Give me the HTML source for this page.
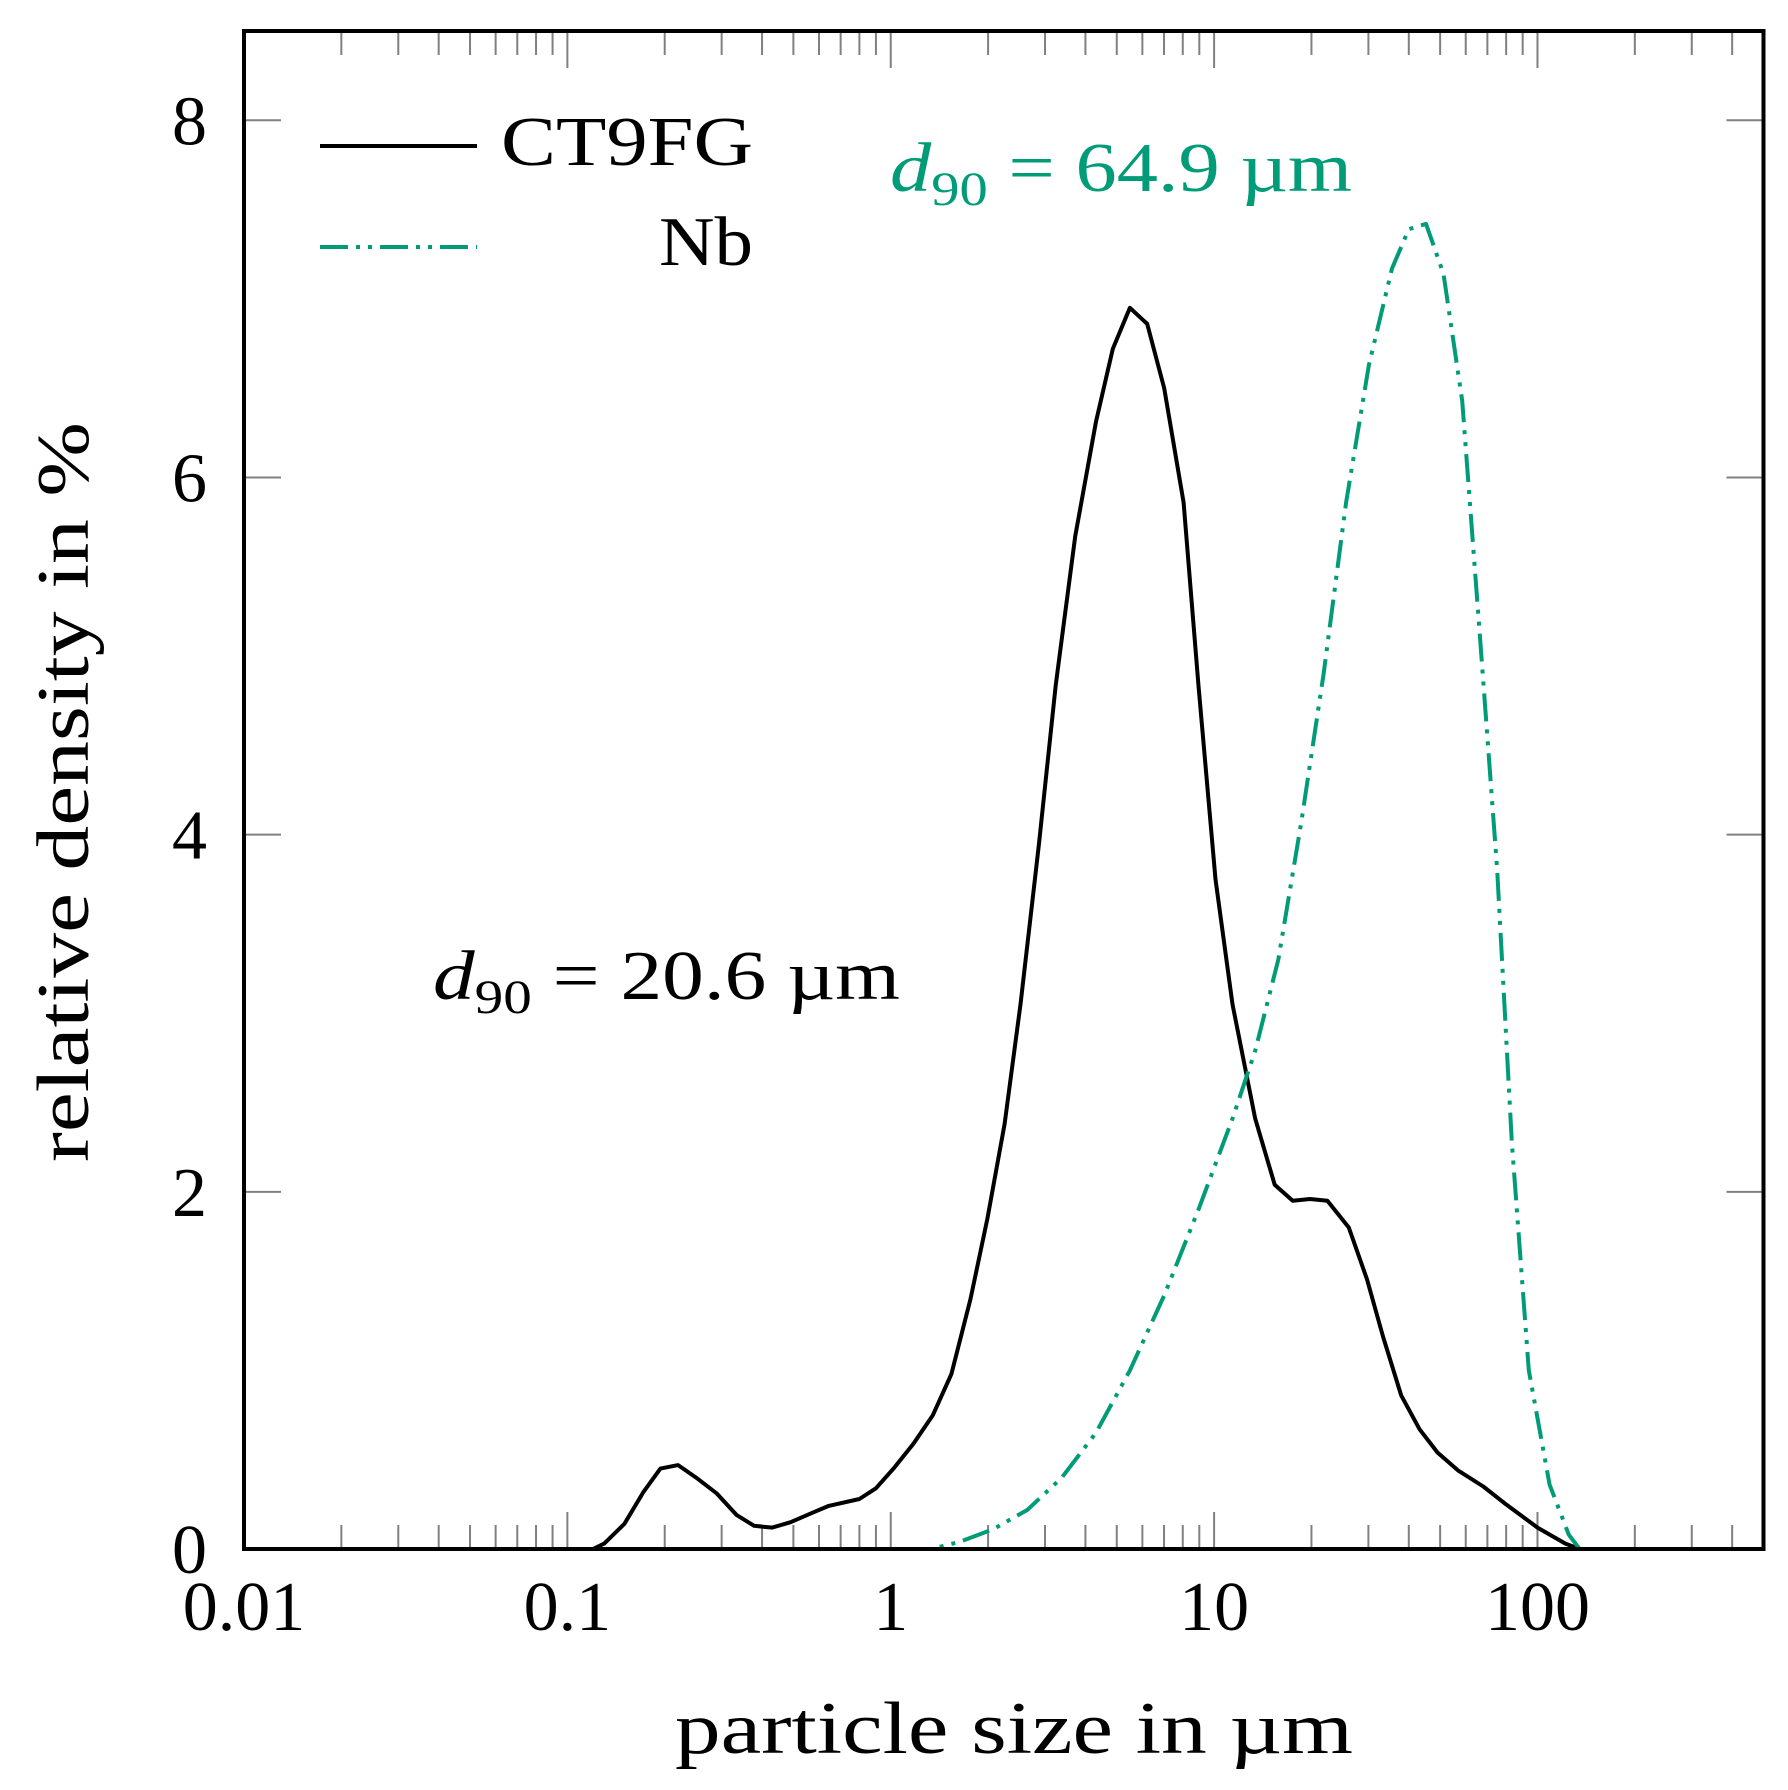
<!DOCTYPE html>
<html><head><meta charset="utf-8"><style>
html,body{margin:0;padding:0;background:#fff;}
svg{display:block;font-family:"Liberation Serif",serif;}
</style></head><body>
<svg id="chart" width="1788" height="1790" viewBox="0 0 1788 1790">
<g id="ticks"></g>
<g id="series"></g>
<rect x="244" y="31" width="1519.5" height="1518" fill="none" stroke="#000" stroke-width="4"/>
<g id="labels"></g>
<text x="675" y="1753" font-size="74" textLength="678" lengthAdjust="spacingAndGlyphs">particle size in µm</text>
<text transform="translate(88,1162) rotate(-90)" font-size="74" textLength="740" lengthAdjust="spacingAndGlyphs">relative density in %</text>
<g>
<line x1="320" y1="146" x2="477" y2="146" stroke="#000" stroke-width="4"/>
<text x="501" y="165" font-size="70" textLength="252" lengthAdjust="spacingAndGlyphs">CT9FG</text>
<line x1="320" y1="247" x2="477" y2="247" stroke="#009b77" stroke-width="4" stroke-dasharray="28 8 4 8 4 8"/>
<text x="659" y="265" font-size="70" textLength="94" lengthAdjust="spacingAndGlyphs">Nb</text>
</g>
<text x="890" y="191" font-size="70" fill="#009b77" textLength="462" lengthAdjust="spacingAndGlyphs"><tspan font-style="italic">d</tspan><tspan font-size="48" dy="14">90</tspan><tspan dy="-14"> = 64.9 µm</tspan></text>
<text x="433" y="999" font-size="70" fill="#000" textLength="467" lengthAdjust="spacingAndGlyphs"><tspan font-style="italic">d</tspan><tspan font-size="48" dy="14">90</tspan><tspan dy="-14"> = 20.6 µm</tspan></text>
</svg>
<script>
const ctSize=[0.01,0.05,0.12,0.13,0.15,0.172,0.194,0.22,0.25,0.29,0.334,0.378,0.43,0.49,0.567,0.64,0.8,0.9,1.02,1.176,1.35,1.54,1.765,1.99,2.25,2.52,2.87,3.24,3.72,4.31,4.86,5.49,6.21,7.01,8.05,8.94,10.1,11.4,13.4,15.4,17.5,19.8,22.4,26.1,29.7,33.3,37.9,43.2,49.1,56.8,68,80,100,122,135,500];
const ctValue=[0,0,0,0.03,0.14,0.32,0.45,0.47,0.40,0.31,0.19,0.13,0.12,0.15,0.20,0.24,0.28,0.34,0.45,0.59,0.75,0.98,1.40,1.85,2.38,3.05,3.94,4.84,5.67,6.31,6.72,6.95,6.86,6.50,5.86,4.84,3.75,3.05,2.41,2.04,1.95,1.96,1.95,1.80,1.51,1.19,0.86,0.67,0.54,0.44,0.35,0.25,0.12,0.03,0,0];
const nbSize=[0.01,1.33,1.63,2.07,2.65,3.38,4.31,5.49,7.01,8.94,11.4,13.4,15.8,18.6,21.8,25.6,30.1,35.5,40,45.2,51.2,58.5,66.5,75,83.3,94,109,125,135,500];
const nbValue=[0,0,0.04,0.11,0.22,0.40,0.65,1.0,1.42,1.90,2.41,2.79,3.30,4.07,4.90,5.86,6.63,7.17,7.39,7.42,7.14,6.43,5.09,3.81,2.28,1.0,0.36,0.08,0,0];
const xTickLabels=["0.01","0.1","1","10","100"];
const xTickValues=[0.01,0.1,1,10,100];
const yTickValues=[0,2,4,6,8];
const NS="http://www.w3.org/2000/svg";
const X0=244,X1=1763.5,Y0=1549,Y1=31,LMIN=-2,LMAX=Math.log10(500),YMAX=8.5;
function sx(v){return X0+(Math.log10(v)-LMIN)/(LMAX-LMIN)*(X1-X0);}
function sy(v){return Y0-v/YMAX*(Y0-Y1);}
const tg=document.getElementById('ticks'),lg=document.getElementById('labels'),sg=document.getElementById('series');
function line(x1,y1,x2,y2){const l=document.createElementNS(NS,'line');l.setAttribute('x1',x1);l.setAttribute('y1',y1);l.setAttribute('x2',x2);l.setAttribute('y2',y2);l.setAttribute('stroke','#808080');l.setAttribute('stroke-width','2');tg.appendChild(l);return l;}
for(let e=-2;e<=2;e++){for(let m=1;m<=9;m++){const v=m*Math.pow(10,e);if(v>500)break;const x=sx(v);const len=m===1?37:24;
const a=line(x,Y0,x,Y0-len);
const b=line(x,Y1,x,Y1+len);}}
yTickValues.forEach(v=>{const y=sy(v);
const a=line(X0,y,X0+37,y);
const b=line(X1,y,X1-37,y);
const t=document.createElementNS(NS,'text');t.setAttribute('x',207);t.setAttribute('y',y+24);t.setAttribute('font-size','70');t.setAttribute('text-anchor','end');t.textContent=String(v);


lg.appendChild(t);});
xTickValues.forEach((v,i)=>{const t=document.createElementNS(NS,'text');t.setAttribute('x',sx(v));t.setAttribute('y',1630);t.setAttribute('font-size','70');t.setAttribute('text-anchor','middle');t.textContent=xTickLabels[i];


lg.appendChild(t);});
function poly(xs,ys,color,dash){const p=document.createElementNS(NS,'polyline');p.setAttribute('points',xs.map((v,i)=>sx(v).toFixed(1)+','+sy(ys[i]).toFixed(1)).join(' '));p.setAttribute('fill','none');p.setAttribute('stroke',color);p.setAttribute('stroke-width','4');p.setAttribute('stroke-linejoin','round');if(dash)p.setAttribute('stroke-dasharray',dash);sg.appendChild(p);return p;}
const pc=poly(ctSize,ctValue,'#000',null);


const pn=poly(nbSize,nbValue,'#009b77','28 8 4 8 4 8');


</script>
</body></html>
